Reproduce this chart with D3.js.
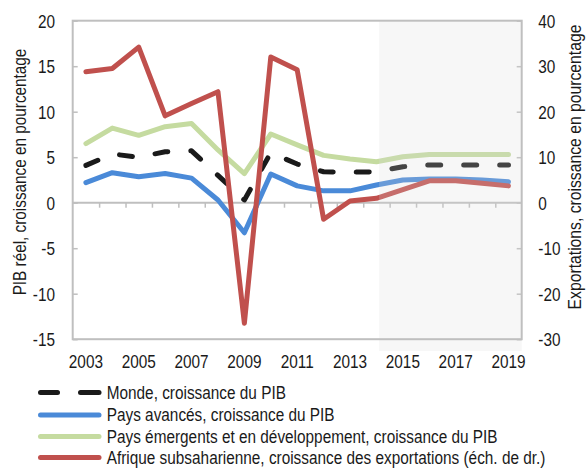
<!DOCTYPE html>
<html><head><meta charset="utf-8">
<script src="https://cdn.jsdelivr.net/npm/d3@7"></script>
<style>
body{margin:0;background:#fff}
svg{display:block}
text{font-family:"Liberation Sans",Arial,sans-serif;fill:#1a1a1a}
</style>
</head><body><svg id="c" width="588" height="468"></svg>
<script>
// ---- data ----
const years = ["2003","2004","2005","2006","2007","2008","2009","2010","2011","2012","2013","2014","2015","2016","2017","2018","2019"];
const yearLabels = ["2003","2005","2007","2009","2011","2013","2015","2017","2019"];
const monde    = [4.1, 5.35, 5.0, 5.6, 5.7, 3.0, 0.3, 5.5, 4.25, 3.4, 3.35, 3.4, 3.95, 4.15, 4.15, 4.15, 4.15];
const avances  = [2.2, 3.3, 2.85, 3.2, 2.7, 0.3, -3.3, 3.15, 1.85, 1.3, 1.3, 1.95, 2.5, 2.6, 2.6, 2.5, 2.3];
const emergents= [6.5, 8.2, 7.4, 8.35, 8.7, 5.8, 3.2, 7.55, 6.35, 5.2, 4.8, 4.5, 5.05, 5.3, 5.3, 5.3, 5.3];
const afrique  = [28.8, 29.5, 34.2, 19.1, 21.8, 24.4, -26.5, 32.0, 29.2, -3.65, 0.37, 0.96, 2.9, 4.8, 4.8, 4.3, 3.7];
const leftTicks = [-15,-10,-5,0,5,10,15,20];
const rightTicks = [-30,-20,-10,0,10,20,30,40];
const projectionStart = "2014";
const legendLabels = [
  "Monde, croissance du PIB",
  "Pays avancés, croissance du PIB",
  "Pays émergents et en développement, croissance du PIB",
  "Afrique subsaharienne, croissance des exportations (éch. de dr.)"
];
const leftTitle = "PIB réel, croissance en pourcentage";
const rightTitle = "Exportations, croissance en pourcentage";

// ---- layout ----
const L = 72.7, R = 521.7, T = 20.7, B = 339.2;
const FS = 18.5, SQ = 0.83;
const svg = d3.select("#c");
const x = d3.scaleBand().domain(years).range([L, R]).padding(0);
const bw = x.bandwidth();
const cx = d => x(d) + bw / 2;
const yL = d3.scaleLinear().domain([-15, 20]).range([B, T]);
const yR = d3.scaleLinear().domain([-30, 40]).range([B, T]);
const grey = "#bfbfbf";

// zero line
svg.append("line").attr("x1", L).attr("x2", R).attr("y1", yL(0)).attr("y2", yL(0))
  .attr("stroke", grey).attr("stroke-width", 2);
// x ticks at category boundaries on zero line
const xb = d3.scaleLinear().domain([0, years.length]).range([L, R]);
const gx = svg.append("g").attr("transform", `translate(0,${yL(0)})`)
  .call(d3.axisBottom(xb).tickValues(d3.range(1, years.length)).tickSize(5).tickFormat(""));
gx.select(".domain").remove();
gx.selectAll("line").attr("stroke", grey).attr("stroke-width", 1.5);

// left axis
const gl = svg.append("g").attr("transform", `translate(${L},0)`)
  .call(d3.axisLeft(yL).tickValues(leftTicks).tickFormat(d => String(d)).tickSize(-5).tickPadding(17.7));
gl.select(".domain").remove();
gl.selectAll("line").attr("stroke", grey).attr("stroke-width", 1.5);
gl.selectAll("text").attr("font-size", FS).attr("dy", "0.35em");

// right axis
const gr = svg.append("g").attr("transform", `translate(${R},0)`)
  .call(d3.axisRight(yR).tickValues(rightTicks).tickFormat(d => String(d)).tickSize(-5).tickPadding(16.6));
gr.select(".domain").remove();
gr.selectAll("line").attr("stroke", grey).attr("stroke-width", 1.5);
gr.selectAll("text").attr("font-size", FS).attr("dy", "0.35em");

// bottom labels
const gb = svg.append("g").attr("transform", `translate(0,${B})`)
  .call(d3.axisBottom(x).tickValues(yearLabels).tickSize(0).tickPadding(0));
gb.select(".domain").remove();
gb.selectAll("text").attr("font-size", FS).attr("y", 29).attr("dy", 0);

svg.selectAll("g.tick text").attr("font-family", null).attr("fill", "#1a1a1a");

// lines
const lineL = d3.line().x((d, i) => cx(years[i])).y(d => yL(d));
const lineR = d3.line().x((d, i) => cx(years[i])).y(d => yR(d));
const series = [
  {data: avances, line: lineL, color: "#4a8ad8", dash: null},
  {data: emergents, line: lineL, color: "#c5dba0", dash: null},
  {data: monde, line: lineL, color: "#1a1a1a", dash: "13,23"},
  {data: afrique, line: lineR, color: "#c0504d", dash: null}
];
series.forEach(s => {
  svg.append("path").attr("d", s.line(s.data)).attr("fill", "none")
    .attr("stroke", s.color).attr("stroke-width", 5)
    .attr("stroke-linejoin", "round").attr("stroke-linecap", "round")
    .attr("stroke-dasharray", s.dash);
});

// projection shading
const sx = x(projectionStart) + bw * 0.6;
svg.append("rect").attr("x", sx).attr("y", T).attr("width", R - sx).attr("height", 351 - T)
  .attr("fill", "rgb(218,218,218)").attr("fill-opacity", 0.22);

// frame
svg.append("rect").attr("x", L).attr("y", T).attr("width", R - L).attr("height", B - T)
  .attr("fill", "none").attr("stroke", grey).attr("stroke-width", 2);

// legend
const legColors = ["#1a1a1a", "#4a8ad8", "#c5dba0", "#c0504d"];
const legY = [392.5, 415, 436.5, 457.5];
legendLabels.forEach((t, i) => {
  const g = svg.append("g");
  if (i === 0) {
    g.append("line").attr("x1", 40.5).attr("x2", 57.5).attr("y1", legY[i]).attr("y2", legY[i])
      .attr("stroke", legColors[i]).attr("stroke-width", 5).attr("stroke-linecap", "round");
    g.append("line").attr("x1", 80.5).attr("x2", 99).attr("y1", legY[i]).attr("y2", legY[i])
      .attr("stroke", legColors[i]).attr("stroke-width", 5).attr("stroke-linecap", "round");
  } else {
    g.append("line").attr("x1", 40.5).attr("x2", 99).attr("y1", legY[i]).attr("y2", legY[i])
      .attr("stroke", legColors[i]).attr("stroke-width", 5).attr("stroke-linecap", "round");
  }
  g.append("text").attr("class", "sq").attr("x", 106.7).attr("y", legY[i] + 6.5).attr("font-size", FS).text(t);
});

// squeeze regular texts horizontally (narrow-face look) around their anchor point
svg.selectAll("g.tick text, text.sq").each(function() {
  const t = d3.select(this);
  const ax = +t.attr("x") || 0;
  t.attr("transform", `translate(${ax},0) scale(${SQ},1) translate(${-ax},0)`);
});

// axis titles (squeezed to the reference lengths)
function title(txt, px, py, target) {
  const t = svg.append("text").attr("text-anchor", "middle").attr("font-size", FS).text(txt);
  const len = t.node().getComputedTextLength();
  t.attr("transform", `translate(${px},${py}) rotate(-90) scale(${target / len},1)`);
}
title(leftTitle, 26, 172, 247);
title(rightTitle, 581, 167, 285);
</script>
</body></html>
